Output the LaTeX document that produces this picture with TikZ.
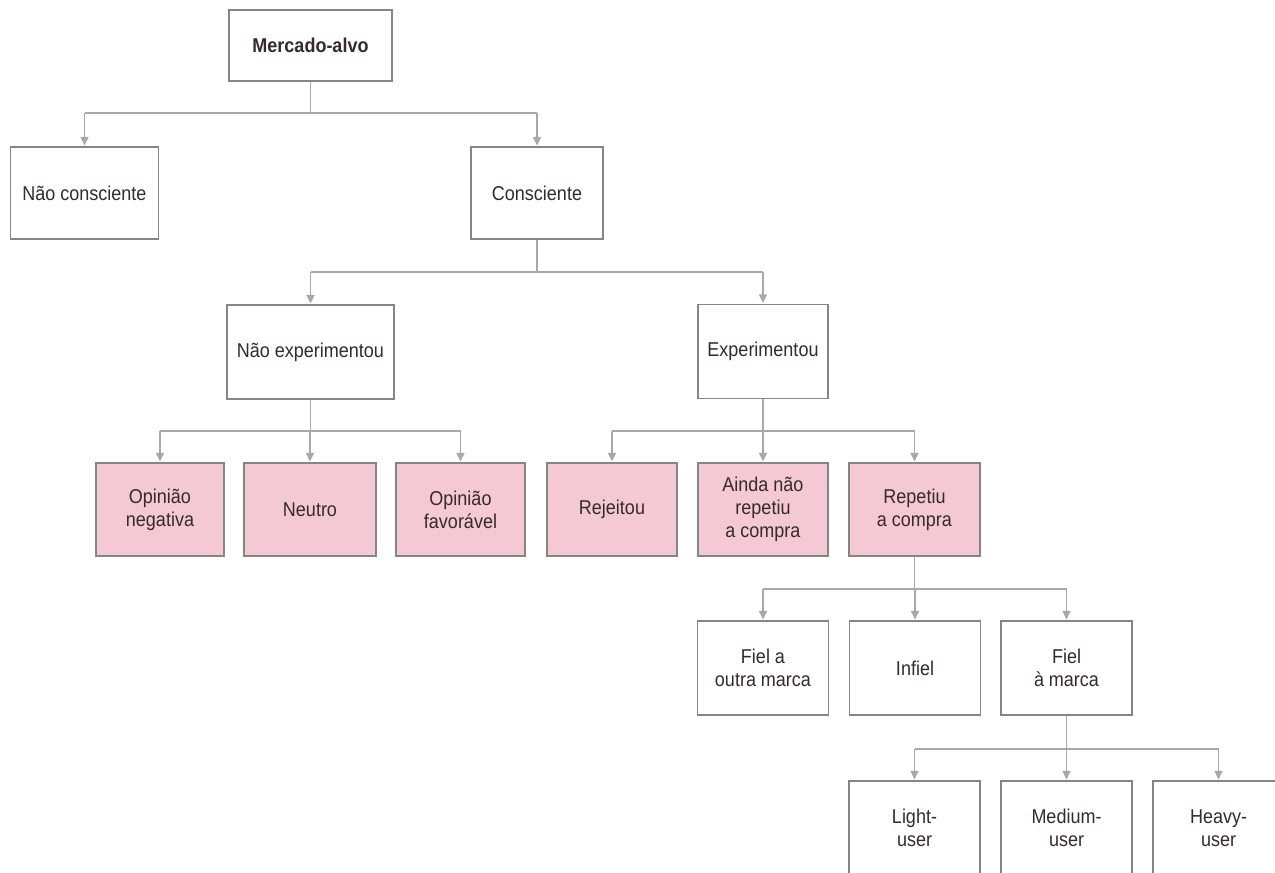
\documentclass[tikz,border=0pt]{standalone}
\usepackage{fontspec}
\setmainfont{Liberation Sans}[FakeStretch=0.9]
\usetikzlibrary{arrows.meta}
\newdimen\px \px=0.75pt
\definecolor{boxline}{HTML}{858585}
\definecolor{conline}{HTML}{A8A8A8}
\definecolor{pinkfill}{HTML}{F5C8D5}
\definecolor{txt}{HTML}{352A2E}
\tikzset{
  box/.style={draw=boxline, line width=1.1pt, fill=white, align=center, inner sep=0pt,
    minimum width=131\px, minimum height=94\px, text=txt,
    font=\fontsize{15pt}{17.4pt}\selectfont},
  pinkbox/.style={box, fill=pinkfill},
  conn/.style={draw=conline, line width=1.3pt},
  arr/.style={conn, -{Triangle[length=6.5pt,width=6pt]}, shorten >=0.5pt}
}
\begin{document}
\begin{tikzpicture}[x=0.75pt,y=-0.75pt]
\clip (0,0) rectangle (1275,872);
\fill[white] (0,0) rectangle (1275,872);
% level 0
\node[box, minimum width=163\px, minimum height=71\px] (m) at (310.5,45.5) {\bfseries Mercado-alvo};
% level 1
\node[box, minimum width=148\px, minimum height=92\px] (nc) at (84.5,193) {Não consciente};
\node[box, minimum width=132\px, minimum height=92\px] (c) at (537,193) {Consciente};
% level 2
\node[box, minimum width=167\px] (ne) at (310.5,352) {Não experimentou};
\node[box, minimum width=130\px] (e) at (763,351.5) {Experimentou};
% level 3
\node[pinkbox, minimum width=128\px, minimum height=93\px] (on) at (160,509.5) {Opinião\\negativa};
\node[pinkbox, minimum width=132\px, minimum height=93\px] (n) at (310,509.5) {Neutro};
\node[pinkbox, minimum width=129\px, minimum height=93\px] (of) at (460.5,509.5) {Opinião\\favorável};
\node[pinkbox, minimum width=130\px, minimum height=93\px] (r) at (612,509.5) {Rejeitou};
\node[pinkbox, minimum width=130\px, minimum height=93\px] (a) at (763,509.5) {Ainda não\\repetiu\\a compra};
\node[pinkbox, minimum width=131\px, minimum height=93\px] (rc) at (914.5,509.5) {Repetiu\\a compra};
% level 4
\node[box] (fo) at (763,668) {Fiel a\\outra marca};
\node[box] (i) at (915,668) {Infiel};
\node[box] (fm) at (1066.5,668) {Fiel\\à marca};
% level 5
\node[box] (lu) at (914.5,828) {Light-\\user};
\node[box] (mu) at (1066.5,828) {Medium-\\user};
\node[box] (hu) at (1218.5,828) {Heavy-\\user};
% bars
\coordinate (b1) at (310,113);
\coordinate (b2) at (537,272);
\coordinate (b3) at (310,431);
\coordinate (b4) at (763,431);
\coordinate (b5) at (914,589);
\coordinate (b6) at (1066,749);
% connectors level 1
\draw[conn] (m.south) -- (m.south |- b1);
\draw[conn] (nc.north |- b1) -- (c.north |- b1);
\draw[arr] (nc.north |- b1) -- (nc.north);
\draw[arr] (c.north |- b1) -- (c.north);
% level 2
\draw[conn] (c.south) -- (c.south |- b2);
\draw[conn] (ne.north |- b2) -- (e.north |- b2);
\draw[arr] (ne.north |- b2) -- (ne.north);
\draw[arr] (e.north |- b2) -- (e.north);
% level 3 left
\draw[conn] (ne.south) -- (ne.south |- b3);
\draw[conn] (on.north |- b3) -- (of.north |- b3);
\draw[arr] (on.north |- b3) -- (on.north);
\draw[arr] (n.north |- b3) -- (n.north);
\draw[arr] (of.north |- b3) -- (of.north);
% level 3 right
\draw[conn] (e.south) -- (e.south |- b4);
\draw[conn] (r.north |- b4) -- (rc.north |- b4);
\draw[arr] (r.north |- b4) -- (r.north);
\draw[arr] (a.north |- b4) -- (a.north);
\draw[arr] (rc.north |- b4) -- (rc.north);
% level 4
\draw[conn] (rc.south) -- (rc.south |- b5);
\draw[conn] (fo.north |- b5) -- (fm.north |- b5);
\draw[arr] (fo.north |- b5) -- (fo.north);
\draw[arr] (i.north |- b5) -- (i.north);
\draw[arr] (fm.north |- b5) -- (fm.north);
% level 5
\draw[conn] (fm.south) -- (fm.south |- b6);
\draw[conn] (lu.north |- b6) -- (hu.north |- b6);
\draw[arr] (lu.north |- b6) -- (lu.north);
\draw[arr] (mu.north |- b6) -- (mu.north);
\draw[arr] (hu.north |- b6) -- (hu.north);
\end{tikzpicture}
\end{document}
